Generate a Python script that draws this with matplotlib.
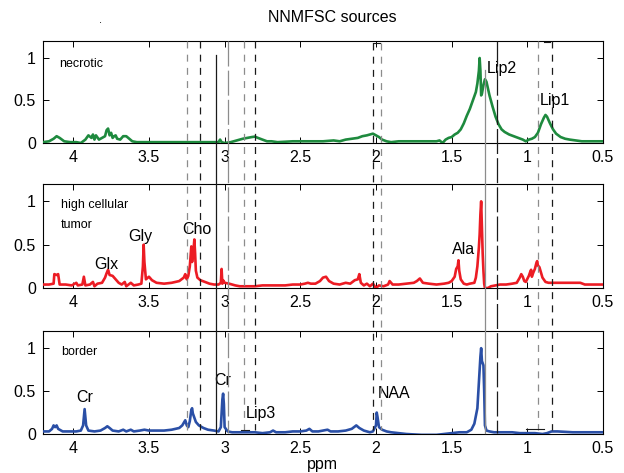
import matplotlib
matplotlib.use("Agg")
import matplotlib.pyplot as plt
from matplotlib.lines import Line2D
from matplotlib.transforms import blended_transform_factory

plt.rcParams['font.family'] = ['Liberation Sans', 'DejaVu Sans']
plt.rcParams['lines.scale_dashes'] = False

# ---------------- data ----------------
ppm_nec = [4.20, 4.16, 4.13, 4.11, 4.09, 4.06, 4.02, 3.98, 3.95, 3.92, 3.90, 3.88, 3.87, 3.86,
           3.85, 3.83, 3.81, 3.79, 3.78, 3.77, 3.76, 3.75, 3.74, 3.73, 3.72, 3.71, 3.69, 3.67,
           3.65, 3.63, 3.61, 3.58, 3.50, 3.40, 3.30, 3.20, 3.10, 3.04, 3.03, 3.02, 3.00, 2.96,
           2.92, 2.88, 2.85, 2.82, 2.80, 2.78, 2.75, 2.72, 2.69, 2.65, 2.55, 2.45, 2.35, 2.28,
           2.24, 2.20, 2.16, 2.12, 2.09, 2.06, 2.04, 2.02, 2.00, 1.98, 1.96, 1.93, 1.90, 1.85,
           1.75, 1.65, 1.60, 1.58, 1.56, 1.54, 1.52, 1.50, 1.48, 1.46, 1.44, 1.42, 1.40, 1.38,
           1.36, 1.34, 1.33, 1.32, 1.315, 1.31, 1.305, 1.30, 1.29, 1.28, 1.27, 1.26, 1.25, 1.23,
           1.21, 1.19, 1.17, 1.15, 1.12, 1.09, 1.06, 1.03, 1.01, 0.99, 0.97, 0.95, 0.93, 0.91,
           0.89, 0.88, 0.87, 0.85, 0.83, 0.81, 0.78, 0.75, 0.72, 0.68, 0.64, 0.60, 0.55, 0.50]
val_nec = [0.01, 0.02, 0.05, 0.08, 0.06, 0.02, 0.01, 0.01, 0.00, 0.04, 0.09, 0.06, 0.10, 0.04,
           0.09, 0.04, 0.06, 0.08, 0.15, 0.17, 0.09, 0.12, 0.06, 0.08, 0.09, 0.05, 0.04, 0.08,
           0.08, 0.05, 0.02, 0.01, 0.01, 0.01, 0.01, 0.01, 0.01, 0.01, 0.04, 0.01, 0.00, 0.01,
           0.03, 0.05, 0.06, 0.07, 0.075, 0.06, 0.04, 0.02, 0.02, 0.01, 0.02, 0.02, 0.02, 0.03,
           0.02, 0.04, 0.05, 0.06, 0.08, 0.09, 0.10, 0.11, 0.09, 0.07, 0.04, 0.02, 0.01, 0.02,
           0.02, 0.02, 0.02, 0.03, 0.00, 0.04, 0.06, 0.07, 0.10, 0.12, 0.16, 0.23, 0.32, 0.40,
           0.50, 0.60, 0.70, 0.85, 1.00, 0.85, 0.56, 0.58, 0.68, 0.75, 0.72, 0.64, 0.56, 0.43,
           0.31, 0.22, 0.16, 0.13, 0.10, 0.08, 0.06, 0.04, 0.02, 0.04, 0.05, 0.07, 0.12, 0.22,
           0.30, 0.33, 0.31, 0.23, 0.16, 0.11, 0.07, 0.05, 0.04, 0.03, 0.02, 0.02, 0.02, 0.02]

ppm_tum = [4.20, 4.16, 4.13, 4.125, 4.11, 4.10, 4.09, 4.05, 4.01, 3.98, 3.97, 3.94, 3.93, 3.92,
           3.89, 3.87, 3.86, 3.84, 3.81, 3.79, 3.78, 3.77, 3.76, 3.74, 3.72, 3.70, 3.68, 3.66,
           3.65, 3.62, 3.60, 3.57, 3.55, 3.54, 3.535, 3.53, 3.52, 3.50, 3.48, 3.45, 3.40, 3.35,
           3.30, 3.27, 3.26, 3.25, 3.24, 3.23, 3.22, 3.215, 3.205, 3.20, 3.195, 3.19, 3.18, 3.16,
           3.13, 3.10, 3.07, 3.04, 3.025, 3.02, 3.015, 3.01, 3.00, 2.97, 2.93, 2.90, 2.85, 2.80,
           2.75, 2.70, 2.65, 2.60, 2.55, 2.50, 2.47, 2.45, 2.43, 2.40, 2.37, 2.35, 2.33, 2.31,
           2.28, 2.24, 2.20, 2.17, 2.14, 2.12, 2.11, 2.10, 2.08, 2.06, 2.04, 2.02, 2.00, 1.98,
           1.95, 1.92, 1.91, 1.89, 1.85, 1.80, 1.75, 1.73, 1.71, 1.69, 1.65, 1.60, 1.55, 1.52,
           1.50, 1.48, 1.47, 1.46, 1.455, 1.45, 1.44, 1.42, 1.40, 1.38, 1.35, 1.34, 1.33, 1.32,
           1.315, 1.31, 1.305, 1.30, 1.295, 1.29, 1.285, 1.28, 1.26, 1.24, 1.21, 1.18, 1.14, 1.10,
           1.07, 1.05, 1.04, 1.03, 1.02, 1.01, 0.99, 0.98, 0.975, 0.97, 0.96, 0.95, 0.94, 0.935,
           0.93, 0.92, 0.90, 0.88, 0.86, 0.80, 0.70, 0.65, 0.62, 0.55, 0.50]
val_tum = [0.04, 0.04, 0.05, 0.16, 0.15, 0.16, 0.04, 0.04, 0.03, 0.06, 0.03, 0.04, 0.13, 0.03,
           0.04, 0.07, 0.02, 0.05, 0.06, 0.12, 0.17, 0.21, 0.15, 0.14, 0.10, 0.06, 0.04, 0.07,
           0.02, 0.06, 0.03, 0.04, 0.05, 0.25, 0.50, 0.30, 0.10, 0.13, 0.09, 0.06, 0.05, 0.06,
           0.08, 0.12, 0.16, 0.10, 0.14, 0.25, 0.48, 0.30, 0.45, 0.56, 0.40, 0.20, 0.12, 0.09,
           0.07, 0.05, 0.04, 0.04, 0.06, 0.22, 0.05, 0.09, 0.06, 0.05, 0.03, 0.02, 0.02, 0.02,
           0.03, 0.03, 0.03, 0.03, 0.04, 0.04, 0.05, 0.06, 0.05, 0.05, 0.08, 0.12, 0.13, 0.08,
           0.05, 0.04, 0.06, 0.05, 0.09, 0.10, 0.16, 0.06, 0.03, 0.05, 0.02, 0.05, 0.00, 0.03,
           0.02, 0.04, 0.08, 0.04, 0.04, 0.05, 0.06, 0.08, 0.11, 0.06, 0.05, 0.04, 0.05, 0.06,
           0.08, 0.13, 0.22, 0.25, 0.32, 0.20, 0.10, 0.05, 0.04, 0.05, 0.06, 0.12, 0.25, 0.47,
           0.62, 0.85, 1.00, 0.70, 0.40, 0.20, 0.05, 0.00, 0.00, 0.02, 0.03, 0.04, 0.04, 0.05,
           0.06, 0.12, 0.16, 0.13, 0.08, 0.07, 0.14, 0.19, 0.21, 0.13, 0.18, 0.22, 0.29, 0.31,
           0.26, 0.24, 0.12, 0.07, 0.06, 0.06, 0.06, 0.06, 0.04, 0.04, 0.04]

ppm_bor = [4.20, 4.16, 4.14, 4.13, 4.12, 4.11, 4.10, 4.07, 4.02, 3.98, 3.95, 3.935, 3.925, 3.915,
           3.90, 3.86, 3.82, 3.79, 3.775, 3.76, 3.74, 3.70, 3.67, 3.65, 3.62, 3.60, 3.56, 3.53,
           3.50, 3.45, 3.40, 3.35, 3.30, 3.28, 3.26, 3.25, 3.24, 3.23, 3.22, 3.215, 3.21, 3.19,
           3.17, 3.14, 3.11, 3.07, 3.04, 3.025, 3.015, 3.01, 3.005, 3.00, 2.98, 2.95, 2.90, 2.85,
           2.80, 2.75, 2.70, 2.68, 2.66, 2.60, 2.55, 2.50, 2.46, 2.44, 2.42, 2.38, 2.35, 2.32,
           2.30, 2.25, 2.20, 2.16, 2.13, 2.11, 2.08, 2.06, 2.04, 2.02, 2.00, 1.995, 1.99, 1.98,
           1.96, 1.93, 1.90, 1.85, 1.80, 1.70, 1.60, 1.55, 1.50, 1.45, 1.40, 1.37, 1.35, 1.33,
           1.32, 1.31, 1.305, 1.30, 1.29, 1.285, 1.28, 1.27, 1.25, 1.22, 1.18, 1.10, 1.05, 1.00,
           0.95, 0.90, 0.87, 0.84, 0.80, 0.70, 0.60, 0.50]
val_bor = [0.03, 0.03, 0.06, 0.10, 0.08, 0.10, 0.06, 0.03, 0.03, 0.03, 0.04, 0.10, 0.29, 0.10,
           0.04, 0.03, 0.04, 0.07, 0.09, 0.07, 0.04, 0.03, 0.05, 0.03, 0.05, 0.03, 0.04, 0.05,
           0.04, 0.04, 0.04, 0.05, 0.07, 0.10, 0.16, 0.10, 0.08, 0.15, 0.28, 0.30, 0.24, 0.14,
           0.10, 0.07, 0.05, 0.04, 0.03, 0.08, 0.40, 0.47, 0.35, 0.08, 0.03, 0.02, 0.02, 0.02,
           0.02, 0.01, 0.02, 0.04, 0.02, 0.02, 0.03, 0.03, 0.04, 0.06, 0.03, 0.03, 0.04, 0.05,
           0.03, 0.03, 0.04, 0.06, 0.10, 0.07, 0.04, 0.03, 0.02, 0.03, 0.10, 0.25, 0.20, 0.08,
           0.05, 0.03, 0.02, 0.01, 0.00, -0.01, -0.01, 0.00, 0.01, 0.02, 0.02, 0.05, 0.12, 0.30,
           0.60, 0.90, 1.00, 0.85, 0.80, 0.50, 0.10, 0.04, 0.03, 0.02, 0.02, 0.02, 0.01, 0.01,
           0.01, 0.00, 0.01, 0.03, 0.03, 0.02, 0.02, 0.02]

panel_names = ["necrotic", "high cellular\ntumor", "border"]

# metabolite labels: (text, ppm, value) per panel
labels_nec = [("Lip2", 1.27, 0.88), ("Lip1", 0.92, 0.50)]
labels_tum = [("Glx", 3.86, 0.27), ("Gly", 3.64, 0.59), ("Cho", 3.28, 0.68), ("Ala", 1.50, 0.44)]
labels_bor = [("Cr", 3.98, 0.42), ("Cr", 3.07, 0.62), ("Lip3", 2.86, 0.24), ("NAA", 1.99, 0.47)]

# integration window boundaries (ppm)
win_ppm = [3.25, 3.16, 3.06, 2.98, 2.87, 2.80, 2.02, 1.97, 1.28, 1.20, 0.93, 0.84]

xticks = [4, 3.5, 3, 2.5, 2, 1.5, 1, 0.5]
xticklabels = ["4", "3.5", "3", "2.5", "2", "1.5", "1", "0.5"]
yticks = [0, 0.5, 1]
yticklabels = ["0", "0.5", "1"]

# ---------------- figure ----------------
W, H = 624, 473
fig = plt.figure(figsize=(W / 100, H / 100), dpi=100)

def fy(px):
    return 1 - px / H

left, right = 43 / W, 603 / W
panels = [(41, 143), (184, 288), (331, 434)]
colors = ['#1e8a3e', '#ec1c24', '#2a4fa6']
series = [(ppm_nec, val_nec), (ppm_tum, val_tum), (ppm_bor, val_bor)]
all_labels = [labels_nec, labels_tum, labels_bor]

axes = []
for i, (top, bot) in enumerate(panels):
    ax = fig.add_axes([left, fy(bot), right - left, (bot - top) / H])
    x, y = series[i]
    ax.plot(x, y, color=colors[i], lw=1.9, zorder=3)
    ax.set_xlim(4.2, 0.5)
    ax.set_ylim(0, 1.2)
    ax.set_xticks(xticks)
    ax.set_xticklabels(xticklabels)
    ax.set_yticks(yticks)
    ax.set_yticklabels(yticklabels)
    ax.tick_params(direction='in', top=True, right=True, length=4, width=0.7,
                   labelsize=11.5, pad=5)
    for s in ax.spines.values():
        s.set_linewidth(0.8)
    for txt, xp, yv in all_labels[i]:
        ax.text(xp, yv, txt, fontsize=11.5, ha='left', va='center', zorder=4)
    ax.patch.set_alpha(0)
    axes.append(ax)

axes[0].text(4.09, 0.93, panel_names[0], fontsize=9, ha='left', va='center')
axes[1].text(4.08, 0.84, panel_names[1], fontsize=9, ha='left', va='center', linespacing=1.9)
axes[2].text(4.08, 0.95, panel_names[2], fontsize=9, ha='left', va='center')

# vertical window lines spanning all panels
tr = blended_transform_factory(axes[0].transData, fig.transFigure)
grey, black = '0.55', '0.1'
dash = (0, (5, 4.5))
longdash = (0, (18, 3))
styles = [(grey, dash, 41, 430), (black, dash, 41, 430),
          (black, '-', 55, 433), (grey, longdash, 41, 433),
          (grey, dash, 41, 430), (black, dash, 41, 430),
          (black, dash, 43, 430), (grey, dash, 43, 430),
          (grey, '-', 70, 433), (black, longdash, 41, 433),
          (grey, dash, 41, 430), (black, dash, 41, 430)]
for xp, (c, ls, t, b) in zip(win_ppm, styles):
    fig.add_artist(Line2D([xp, xp], [fy(t), fy(b)], transform=tr, color=c,
                          linestyle=ls, lw=0.9, zorder=5))

# small brackets closing some windows
brackets = [(2.02, 1.975, 43), (0.89, 0.85, 42), (2.89, 2.84, 430), (1.01, 0.89, 429)]
for x0, x1, yp in brackets:
    fig.add_artist(Line2D([x0, x1], [fy(yp), fy(yp)], transform=tr, color=black,
                          lw=0.8, zorder=5))

fig.text(332 / W, fy(18), "NNMFSC sources", fontsize=11.5, ha='center', va='center')
fig.text(100 / W, fy(20), ".", fontsize=8, ha='center', va='center')
fig.text(322 / W, fy(472), "ppm", fontsize=11.5, ha='center', va='bottom')

fig.savefig("out.png", dpi=100)
